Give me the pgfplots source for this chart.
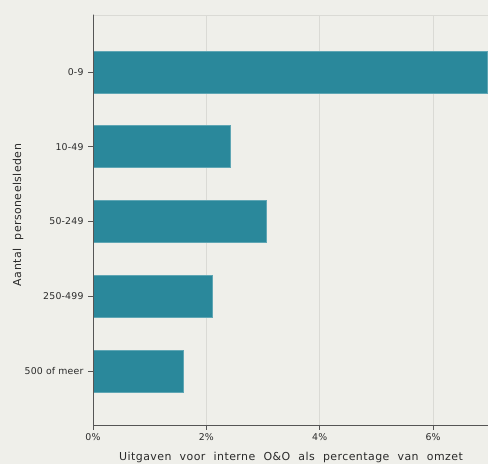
\documentclass[border=0pt]{standalone}
\usepackage{fontspec}
\setmainfont{DejaVu Sans}
\newfontfamily\labelfont[LetterSpace=4, WordSpace=2.1]{DejaVu Sans}
\usepackage{pgfplots}
\pgfplotsset{compat=1.18}
\definecolor{bg}{HTML}{EFEFEA}
\definecolor{barc}{HTML}{2A889B}
\definecolor{baredge}{HTML}{5FA6B4}
\definecolor{axc}{HTML}{555555}
\definecolor{gridc}{HTML}{DADAD5}
\definecolor{txt}{HTML}{2A2A2A}
\begin{document}
\begin{tikzpicture}
\fill[bg] (0,0) rectangle (488bp,464bp);
\useasboundingbox (0,0) rectangle (488bp,464bp);
\begin{axis}[
  at={(93bp,39bp)}, anchor=south west,
  scale only axis, width=395bp, height=410bp,
  xmin=0, xmax=6.97, ymin=-0.722, ymax=4.763,
  xbar, bar width=42bp,
  axis x line=bottom, axis y line=left,
  axis line style={axc, line width=0.9pt, -},
  ytick={0,1,2,3,4},
  yticklabels={500 of meer,250-499,50-249,10-49,0-9},
  xtick={0,2,4,6},
  xticklabel={\pgfmathprintnumber{\tick}\%},
  /pgf/number format/assume math mode=true,
  tick align=outside, major tick length=5bp,
  tick style={axc, line width=0.8pt},
  xmajorgrids, major grid style={gridc, line width=0.8pt},
  ticklabel style={font=\fontsize{9.4}{11}\selectfont\addfontfeatures{LetterSpace=2}, text=txt},
  yticklabel style={xshift=-1bp},
  clip=true,
]
\addplot[fill=barc, draw=baredge, line width=0.7pt] coordinates {
  (1.59,0) (2.10,1) (3.05,2) (2.42,3) (6.95,4)
};
\draw[gridc, line width=0.8pt] (rel axis cs:0,1) -- (rel axis cs:1,1);
\draw[axc, line width=0.9pt] (rel axis cs:0,1) -- ++(-5bp,0);
\draw[axc, line width=0.9pt] (rel axis cs:0,0) -- ++(-5bp,0);
\draw[axc, line width=0.9pt] (rel axis cs:0,0) -- (rel axis cs:0,1);
\end{axis}
\node[text=txt, font=\labelfont\fontsize{11}{13}\selectfont] at (291bp,7bp) {Uitgaven voor interne O\&O als percentage van omzet};
\node[text=txt, rotate=90, font=\labelfont\fontsize{11}{13}\selectfont] at (18bp,249bp) {Aantal personeelsleden};
\end{tikzpicture}
\end{document}
